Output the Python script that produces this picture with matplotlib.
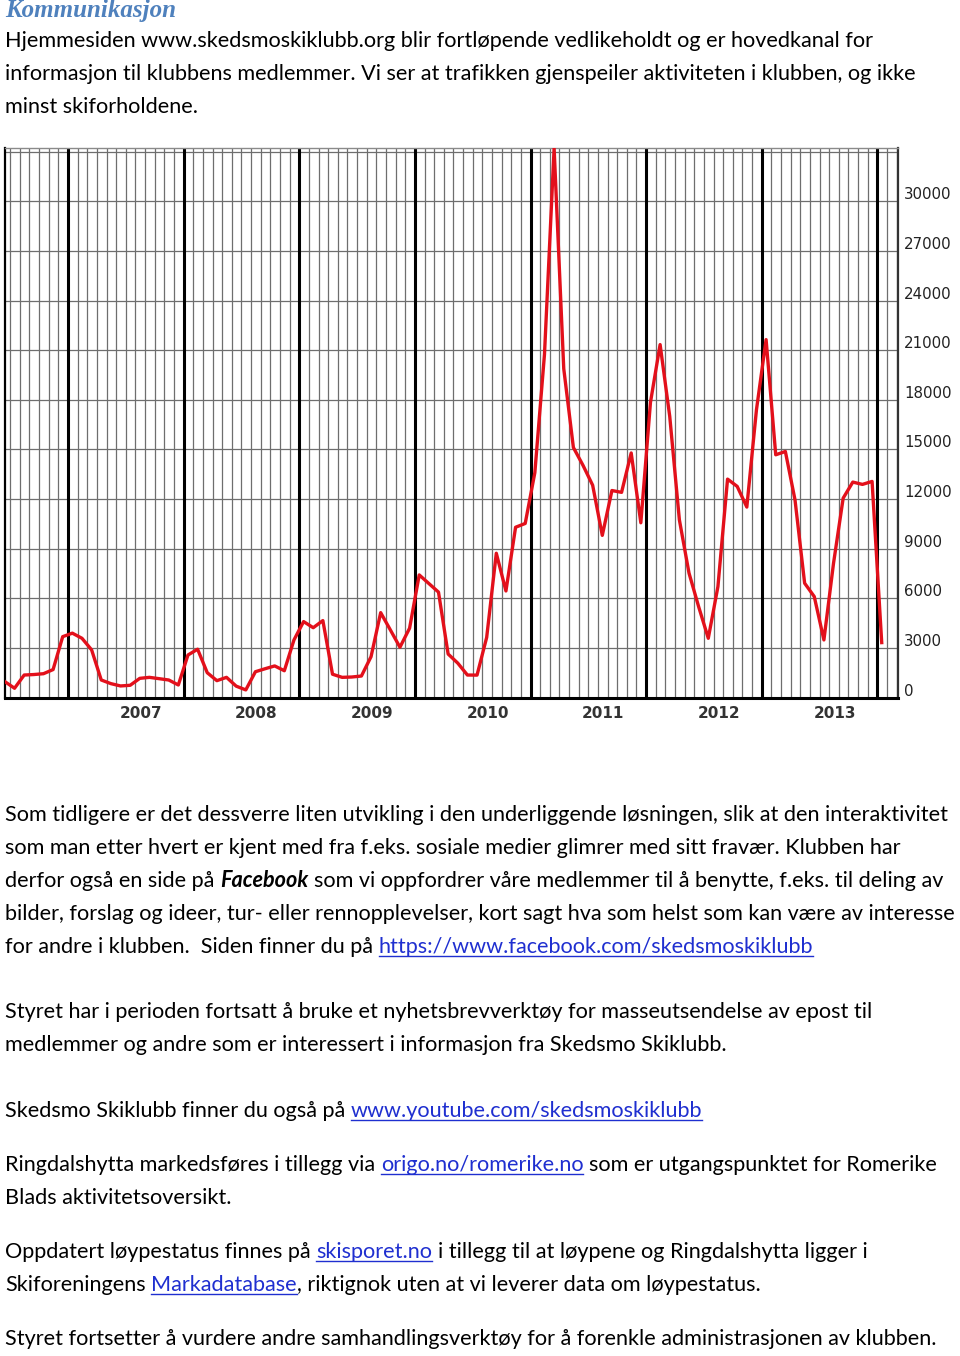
import matplotlib
matplotlib.use("Agg")
import matplotlib.pyplot as plt
import matplotlib.transforms as mtransforms
from matplotlib.lines import Line2D
import numpy as np

# monthly page views on the club web site, June 2006 .. January 2014
visits = [970, 570, 1370, 1400, 1450, 1700, 3690,
          3900, 3590, 2890, 1070, 850, 710, 750, 1170, 1230, 1150, 1070, 770,
          2580, 2930, 1510, 1030, 1230, 700, 470, 1570, 1750, 1920, 1630, 3490,
          4600, 4230, 4660, 1420, 1230, 1250, 1310, 2480, 5140, 4100, 3050, 4200,
          7420, 6900, 6380, 2640, 2090, 1370, 1365, 3640, 8730, 6450, 10300, 10530,
          13600, 20750, 33200, 19880, 15120, 14040, 12840, 9810, 12520, 12410, 14790, 10570,
          17850, 21340, 17000, 10750, 7530, 5500, 3590, 6710, 13210, 12770, 11520, 17400,
          21640, 14680, 14880, 11960, 6920, 6110, 3490, 8130, 12060, 13030, 12890, 13070,
          3330]
first_month = -7   # June 2006, counted in months from January 2007
years = [2007, 2008, 2009, 2010, 2011, 2012, 2013]
y_labels = [0, 3000, 6000, 9000, 12000, 15000, 18000, 21000, 24000, 27000, 30000]

W, H = 960, 1356
fig = plt.figure(figsize=(W / 100, H / 100), dpi=100)


def fx(px):
    return px / W


def fy(py):
    return 1 - py / H


# ---- chart ----
ax = fig.add_axes([fx(5), fy(697.7), (898 - 5) / W, (697.7 - 147.5) / H])
x = first_month + np.arange(len(visits)) + 0.45

for m in range(-6, 87):
    if m % 12 == 0:
        ax.axvline(m, color="black", lw=2.2, zorder=2)
    else:
        ax.axvline(m, color="#6e6e6e", lw=0.9, zorder=1)
for v in range(3000, 33001, 3000):
    ax.axhline(v, color="#6e6e6e", lw=0.9, zorder=1)

ax.plot(x, visits, color="#e3101b", lw=2.4, zorder=3)
ax.set_xlim(-6.54, 86.14)
ax.set_ylim(0, 33250)

ax.set_xticks([12 * i + 7.55 for i in range(len(years))])
ax.set_xticklabels(years, fontweight="bold", fontsize=11, color="#333333")
ax.tick_params(axis="x", length=0, pad=6)
ax.set_yticks([])

trans = mtransforms.blended_transform_factory(ax.transAxes, ax.transData)
trans = mtransforms.offset_copy(trans, fig=fig, x=6, y=2, units="dots")
for v in y_labels:
    ax.text(1.0, v, str(v), transform=trans, ha="left", va="baseline",
            fontsize=10.8, color="#222222", clip_on=False)

ax.spines["left"].set(color="black", lw=1.6)
ax.spines["bottom"].set(color="black", lw=2.2)
ax.spines["right"].set(color="#333333", lw=1.6)
ax.spines["top"].set(color="#8a8a8a", lw=1.0)

# ---- page text ----
LINK = "#1f2fd0"
body = dict(fontsize=15.6, family="Lato", color="black")
renderer = fig.canvas.get_renderer()

t1 = fig.text(0, 0, "a a", **body)
t2 = fig.text(0, 0, "aa", **body)
space_w = t1.get_window_extent(renderer).width - t2.get_window_extent(renderer).width
t1.remove()
t2.remove()


def write(y_base, parts):
    xpos = 5
    for text, kind in parts:
        stripped = text.rstrip(" ")
        n_trail = len(text) - len(stripped)
        style = dict(body)
        if kind == "bi":
            style.update(fontweight="bold", fontstyle="italic")
        if kind == "link":
            style.update(color=LINK)
        t = fig.text(fx(xpos), fy(y_base), stripped, ha="left", va="baseline", **style)
        w = t.get_window_extent(renderer).width
        if kind == "link":
            fig.add_artist(Line2D([fx(xpos), fx(xpos + w)], [fy(y_base + 3)] * 2,
                                  color=LINK, lw=1.0))
        xpos += w + n_trail * space_w


fig.text(fx(5), fy(17.5), "Kommunikasjon", family="Liberation Serif", fontsize=18,
         fontweight="bold", fontstyle="italic", color="#4f81bd", va="baseline")

page = [
    (47, [("Hjemmesiden www.skedsmoskiklubb.org blir fortløpende vedlikeholdt og er hovedkanal for", "")]),
    (80, [("informasjon til klubbens medlemmer. Vi ser at trafikken gjenspeiler aktiviteten i klubben, og ikke", "")]),
    (113, [("minst skiforholdene.", "")]),
    (821, [("Som tidligere er det dessverre liten utvikling i den underliggende løsningen, slik at den interaktivitet", "")]),
    (854, [("som man etter hvert er kjent med fra f.eks. sosiale medier glimrer med sitt fravær. Klubben har", "")]),
    (887, [("derfor også en side på ", ""), ("Facebook ", "bi"),
           ("som vi oppfordrer våre medlemmer til å benytte, f.eks. til deling av", "")]),
    (920, [("bilder, forslag og ideer, tur- eller rennopplevelser, kort sagt hva som helst som kan være av interesse", "")]),
    (953, [("for andre i klubben.  Siden finner du på ", ""),
           ("https://www.facebook.com/skedsmoskiklubb", "link")]),
    (1018, [("Styret har i perioden fortsatt å bruke et nyhetsbrevverktøy for masseutsendelse av epost til", "")]),
    (1051, [("medlemmer og andre som er interessert i informasjon fra Skedsmo Skiklubb.", "")]),
    (1117, [("Skedsmo Skiklubb finner du også på ", ""), ("www.youtube.com/skedsmoskiklubb", "link")]),
    (1171, [("Ringdalshytta markedsføres i tillegg via ", ""), ("origo.no/romerike.no ", "link"),
            ("som er utgangspunktet for Romerike", "")]),
    (1204, [("Blads aktivitetsoversikt.", "")]),
    (1258, [("Oppdatert løypestatus finnes på ", ""), ("skisporet.no ", "link"),
            ("i tillegg til at løypene og Ringdalshytta ligger i", "")]),
    (1291, [("Skiforeningens ", ""), ("Markadatabase", "link"),
            (", riktignok uten at vi leverer data om løypestatus.", "")]),
    (1345, [("Styret fortsetter å vurdere andre samhandlingsverktøy for å forenkle administrasjonen av klubben.", "")]),
]
for y_base, parts in page:
    write(y_base, parts)

fig.savefig("out.png", dpi=100)
